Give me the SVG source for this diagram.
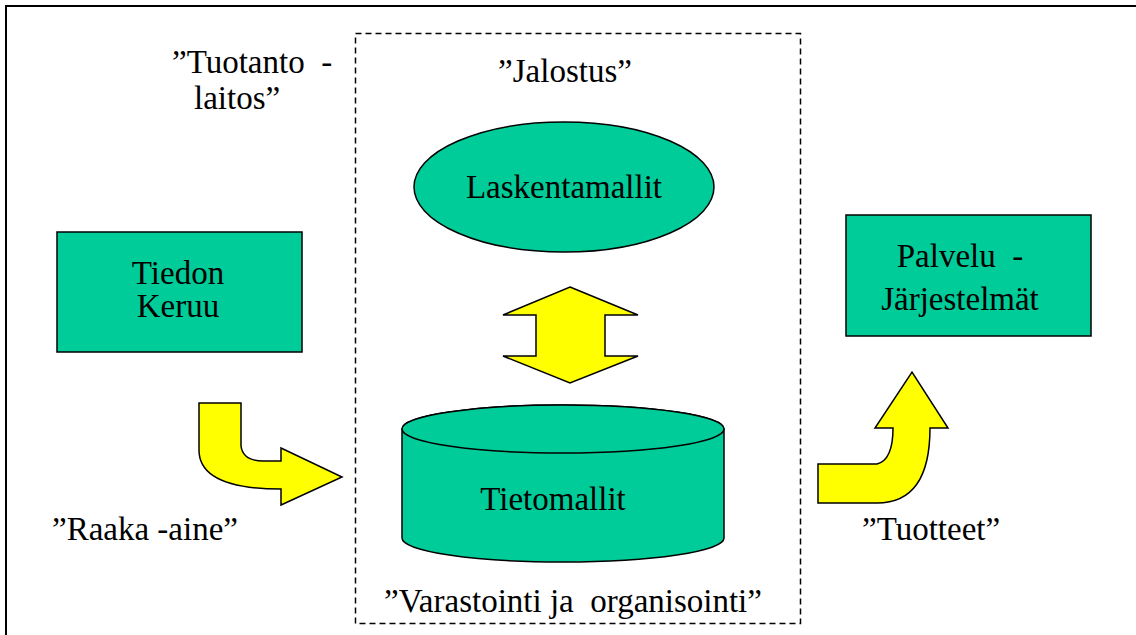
<svg xmlns="http://www.w3.org/2000/svg" width="1136" height="635" viewBox="0 0 1136 635">
  <style>
    .t { font-family: "Liberation Serif", "Times New Roman", serif; font-size: 33px; fill: #000; white-space: pre; }
    .c { text-anchor: middle; }
    .node { fill: #00CC99; stroke: #000; stroke-width: 1.5; }
    .flow { fill: #FFFF00; stroke: #000; stroke-width: 1.5; stroke-linejoin: miter; }
  </style>

  <rect width="1136" height="635" fill="#fff"/>
  <!-- outer frame -->
  <rect x="6" y="6" width="1140" height="650" fill="none" stroke="#000" stroke-width="2"/>
  <!-- processing area -->
  <rect x="355.5" y="33.5" width="445" height="590" fill="none" stroke="#000" stroke-width="1.5" stroke-dasharray="6 4"/>

  <!-- free labels -->
  <text class="t" x="172" y="73" xml:space="preserve">”Tuotanto  -</text>
  <text class="t" x="194" y="109">laitos”</text>
  <text class="t c" x="565" y="82">”Jalostus”</text>
  <text class="t" x="52" y="540">”Raaka -aine”</text>
  <text class="t" x="862" y="540">”Tuotteet”</text>
  <text class="t c" x="573" y="612" xml:space="preserve">”Varastointi ja  organisointi”</text>

  <g id="laskentamallit">
    <ellipse class="node" cx="564" cy="187" rx="150" ry="65"/>
    <text class="t c" x="564" y="198">Laskentamallit</text>
  </g>

  <g id="tiedon-keruu">
    <rect class="node" x="57" y="232" width="245" height="120"/>
    <text class="t c" x="178" y="284">Tiedon</text>
    <text class="t c" x="178" y="317">Keruu</text>
  </g>

  <g id="palvelu-jarjestelmat">
    <rect class="node" x="846" y="215" width="245" height="121"/>
    <text class="t c" x="960" y="267" xml:space="preserve">Palvelu  -</text>
    <text class="t c" x="960" y="310">Järjestelmät</text>
  </g>

  <g id="tietomallit">
    <path class="node" d="M402,429 L402,538 A161,24 0 0 0 724,538 L724,429 A161,24 0 0 0 402,429 Z"/>
    <ellipse class="node" cx="563" cy="429" rx="161" ry="24"/>
    <text class="t c" x="553" y="510">Tietomallit</text>
  </g>

  <g id="connectors">
    <!-- two-way link between the models -->
    <path class="flow" d="M570,287 L638,315 L605,315 L605,356 L638,356 L570,383 L503,356 L536,356 L536,315 L503,315 Z"/>
    <!-- raw data into storage -->
    <path class="flow" d="M199,403 L241,403 L241,446 Q243,461 263,461 L281,461 L281,448 L342,477 L281,505 L281,489 Q199,489 199,450 Z"/>
    <!-- products out to services -->
    <path class="flow" d="M818,503 L818,464 L877,464 Q893,460 893,428 L875,428 L912,372 L948,428 L930,428 Q930,503 877,503 Z"/>
  </g>
</svg>
